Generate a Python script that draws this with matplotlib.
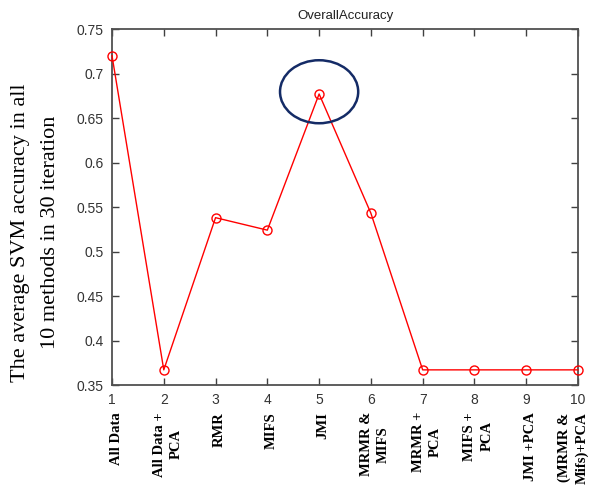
import numpy as np
import matplotlib.pyplot as plt
from matplotlib.patches import Ellipse
import matplotlib.transforms as mtransforms

methods = ['All Data', 'All Data +\nPCA', 'RMR', 'MIFS', 'JMI', 'MRMR &\nMIFS',
           'MRMR +\nPCA', 'MIFS +\nPCA', 'JMI +PCA', '(MRMR &\nMifs)+PCA']
x = np.arange(1, 11)
accuracy = [0.720, 0.367, 0.538, 0.524, 0.677, 0.543, 0.367, 0.367, 0.367, 0.367]

fig = plt.figure(figsize=(5.91, 4.97), dpi=100)
ax = fig.add_axes([112/591, 1-385/497, 466/591, 356/497])

ax.plot(x, accuracy, '-o', color='red', lw=1, markersize=6.5,
        markerfacecolor='none', markeredgecolor='red', clip_on=False, zorder=3)

# circle round the best method
ax.add_patch(Ellipse((5, 0.6795), 1.51, 0.0708, fill=False,
                     edgecolor='#142b66', lw=1.8, zorder=4))

ax.set_xlim(1, 10)
ax.set_ylim(0.35, 0.75)
ax.set_xticks(x)
ax.set_yticks(np.arange(0.35, 0.76, 0.05))
ax.set_yticklabels(['0.35', '0.4', '0.45', '0.5', '0.55', '0.6', '0.65', '0.7', '0.75'])
ax.tick_params(direction='in', length=5, width=1, top=True, right=True,
               labelsize=10, labelcolor='#333333', color='#404040', pad=6)
for tl in ax.get_xticklabels() + ax.get_yticklabels():
    tl.set_family('Liberation Sans')
for s in ax.spines.values():
    s.set_color('#505050')
    s.set_linewidth(1.3)

ax.set_title('OverallAccuracy', fontsize=9.5, family='Liberation Sans',
             color='#222222', pad=7)

# method names under the tick numbers
trans = mtransforms.blended_transform_factory(ax.transData, fig.transFigure)
for xi, name in zip(x, methods):
    dx = 4 if xi < 10 else -5
    off = mtransforms.ScaledTranslation(dx/100, 0, fig.dpi_scale_trans)
    ax.text(xi, 1-412/497, name, transform=trans + off, rotation=90,
            ha='center', va='top', multialignment='center',
            family='Liberation Serif', fontweight='bold', fontsize=10.5,
            linespacing=1.4)

fig.text(21/591, 1-233/497, 'The average SVM accuracy in all', rotation=90,
         ha='center', va='center', family='Liberation Serif', fontsize=16)
fig.text(51/591, 1-232/497, '10 methods in 30 iteration', rotation=90,
         ha='center', va='center', family='Liberation Serif', fontsize=16)

fig.savefig('out.png', dpi=100)
